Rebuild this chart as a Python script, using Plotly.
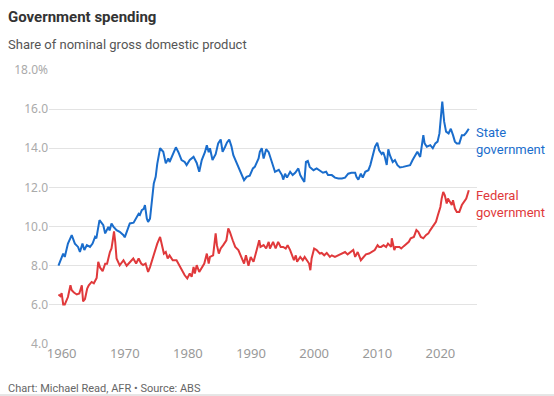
import plotly.graph_objects as go

state_year = [1959.5, 1960.25, 1960.5, 1961.0, 1961.6, 1962.1, 1962.6, 1962.9, 1963.3, 1963.6, 1964.0, 1964.5,
              1964.9, 1965.3, 1965.5, 1966.0, 1966.3, 1966.6, 1966.9, 1967.4, 1967.6, 1967.9, 1968.2, 1968.7,
              1969.2, 1969.8, 1970.0, 1970.3, 1970.8, 1971.4, 1971.9, 1972.2, 1972.4, 1972.7, 1973.0, 1973.2,
              1973.5, 1973.7, 1974.0, 1974.3, 1974.6, 1974.9, 1975.15, 1975.6, 1976.1, 1976.5, 1976.9, 1977.1,
              1977.6, 1978.1, 1978.5, 1979.0, 1979.5, 1979.8, 1980.3, 1980.9, 1981.4, 1981.8, 1982.2, 1982.4,
              1982.7, 1983.0, 1983.3, 1983.5, 1983.9, 1984.4, 1984.8, 1985.2, 1985.5, 1985.9, 1986.2, 1986.55,
              1986.9, 1987.2, 1987.7, 1988.1, 1988.5, 1988.9, 1989.3, 1989.8, 1990.3, 1990.6, 1991.2, 1991.4,
              1991.7, 1992.0, 1992.4, 1992.8, 1993.3, 1993.8, 1994.4, 1994.9, 1995.1, 1995.4, 1995.7, 1996.2,
              1996.6, 1997.0, 1997.5, 1997.8, 1998.2, 1998.45, 1998.7, 1999.0, 1999.3, 1999.9, 2000.4, 2000.9,
              2001.4, 2001.9, 2002.2, 2002.8, 2003.3, 2003.85, 2004.4, 2004.9, 2005.4, 2005.9, 2006.5, 2006.7,
              2007.0, 2007.4, 2007.7, 2008.1, 2008.6, 2008.9, 2009.3, 2009.65, 2010.0, 2010.3, 2010.7, 2010.95,
              2011.2, 2011.5, 2011.75, 2012.0, 2012.45, 2012.8, 2013.2, 2013.6, 2014.1, 2014.7, 2015.2, 2015.6,
              2016.0, 2016.35, 2016.8, 2017.0, 2017.3, 2017.5, 2017.85, 2018.4, 2018.8, 2019.2, 2019.55, 2019.85,
              2020.1, 2020.3, 2020.6, 2020.9, 2021.3, 2021.65, 2022.0, 2022.3, 2022.6, 2023.0, 2023.4, 2023.75,
              2024.1, 2024.5]
state_share = [8.0, 8.62, 8.45, 9.13, 9.56, 9.13, 8.96, 8.7, 9.13, 8.8, 9.05, 8.96,
               9.13, 9.47, 9.4, 10.33, 10.2, 10.07, 9.65, 9.98, 9.8, 10.16, 10.0, 9.82,
               9.73, 9.56, 9.45, 9.73, 10.16, 10.2, 10.5, 10.65, 10.6, 10.84, 10.9, 11.1,
               10.4, 10.24, 10.4, 11.35, 12.2, 12.54, 13.2, 14.0, 13.82, 13.23, 13.48, 13.3,
               13.65, 14.05, 13.8, 13.4, 13.3, 13.14, 13.4, 13.56, 13.25, 12.8, 13.4, 13.56,
               13.8, 14.16, 13.8, 14.0, 13.4, 13.7, 14.25, 14.45, 13.82, 14.08, 14.3, 14.45,
               14.1, 13.65, 13.3, 12.97, 12.7, 12.37, 12.54, 12.6, 12.97, 13.05, 13.48, 13.82,
               14.0, 13.48, 13.95, 13.8, 13.3, 12.8, 12.9, 12.63, 12.4, 12.7, 12.5, 12.8,
               12.63, 12.75, 12.97, 12.63, 12.4, 12.28, 13.3, 13.35, 13.05, 12.88, 12.97, 12.88,
               12.75, 12.8, 12.63, 12.63, 12.5, 12.46, 12.46, 12.5, 12.7, 12.75, 12.75, 12.54,
               12.4, 12.7, 12.5, 12.8, 12.88, 13.14, 13.65, 14.08, 14.28, 13.9, 13.7, 13.8,
               13.56, 13.15, 13.95, 13.65, 13.3, 13.4, 13.14, 13.02, 13.05, 13.1, 13.14, 13.4,
               13.65, 13.82, 13.56, 13.98, 14.67, 14.25, 14.08, 14.16, 14.0, 14.25, 14.34, 14.76,
               15.7, 16.38, 15.36, 14.85, 14.76, 15.0, 14.67, 14.34, 14.25, 14.25, 14.67, 14.67,
               14.8, 15.0]

federal_year = [1959.5, 1959.8, 1960.0, 1960.25, 1960.5, 1960.8, 1961.0, 1961.4, 1961.6, 1961.95, 1962.4, 1962.8,
                1963.2, 1963.4, 1963.7, 1964.05, 1964.3, 1964.75, 1965.1, 1965.55, 1965.8, 1966.1, 1966.5, 1966.9,
                1967.2, 1967.65, 1967.9, 1968.1, 1968.3, 1968.5, 1968.7, 1969.2, 1969.8, 1970.3, 1970.8, 1971.35,
                1971.8, 1972.2, 1972.6, 1972.9, 1973.3, 1973.7, 1974.0, 1974.4, 1974.8, 1975.15, 1975.6, 1975.8,
                1976.2, 1976.5, 1976.8, 1977.1, 1977.6, 1978.2, 1978.5, 1979.0, 1979.5, 1979.9, 1980.3, 1980.6,
                1980.9, 1981.1, 1981.4, 1981.8, 1982.2, 1982.6, 1983.0, 1983.3, 1983.5, 1984.0, 1984.4, 1984.6,
                1984.9, 1985.2, 1985.6, 1986.1, 1986.4, 1986.65, 1987.1, 1987.5, 1988.0, 1988.5, 1988.9, 1989.2,
                1989.6, 1989.95, 1990.4, 1990.9, 1991.3, 1991.5, 1992.0, 1992.4, 1992.8, 1993.0, 1993.5, 1993.9,
                1994.3, 1994.7, 1995.1, 1995.5, 1995.8, 1996.2, 1996.4, 1996.8, 1997.1, 1997.3, 1997.8, 1998.2,
                1998.5, 1999.0, 1999.2, 1999.4, 1999.6, 2000.0, 2000.4, 2000.9, 2001.2, 2001.6, 2002.0, 2002.5,
                2002.8, 2003.3, 2003.85, 2004.4, 2004.9, 2005.3, 2005.8, 2006.2, 2006.5, 2006.9, 2007.4, 2007.8,
                2008.2, 2008.7, 2009.2, 2009.6, 2010.05, 2010.3, 2010.6, 2011.0, 2011.4, 2011.7, 2012.2, 2012.3,
                2012.7, 2012.9, 2013.5, 2013.8, 2014.2, 2014.6, 2015.0, 2015.3, 2015.8, 2016.2, 2016.5, 2016.9,
                2017.3, 2017.7, 2018.1, 2018.4, 2018.8, 2019.3, 2019.6, 2020.0, 2020.2, 2020.45, 2020.7, 2021.0,
                2021.2, 2021.5, 2021.8, 2022.0, 2022.3, 2022.6, 2023.0, 2023.4, 2023.75, 2024.1, 2024.5]
federal_share = [6.53, 6.45, 6.6, 6.02, 6.02, 6.24, 6.4, 7.0, 6.75, 6.63, 6.53, 6.58,
                 7.0, 6.18, 6.3, 6.83, 7.0, 7.17, 7.1, 7.38, 8.2, 7.9, 7.72, 8.1,
                 8.1, 8.7, 8.88, 9.3, 9.75, 9.2, 8.37, 8.02, 8.28, 8.0, 8.2, 8.37,
                 8.11, 8.37, 8.11, 8.03, 8.11, 7.68, 7.93, 8.37, 8.8, 9.13, 9.47, 9.22,
                 8.62, 8.7, 8.37, 8.53, 8.28, 8.28, 8.11, 7.77, 7.51, 7.35, 7.6, 7.43,
                 7.94, 7.6, 8.03, 7.68, 7.93, 8.11, 8.62, 8.11, 8.45, 8.53, 9.65, 9.05,
                 8.62, 8.88, 9.05, 9.3, 9.9, 9.73, 9.3, 8.96, 8.8, 8.37, 8.11, 8.53,
                 8.0, 8.45, 8.2, 8.8, 9.3, 8.96, 9.05, 8.88, 9.22, 8.88, 9.22, 8.88,
                 9.22, 8.96, 8.96, 8.88, 9.05, 8.8, 8.62, 8.28, 8.53, 8.2, 8.45, 8.28,
                 8.45, 8.2, 8.11, 7.77, 8.37, 8.88, 8.8, 8.62, 8.65, 8.53, 8.65, 8.45,
                 8.53, 8.45, 8.53, 8.62, 8.7, 8.58, 8.7, 8.8, 8.45, 8.7, 8.28, 8.45,
                 8.58, 8.62, 8.7, 8.8, 9.05, 8.96, 8.96, 9.05, 8.96, 9.13, 8.96, 9.4,
                 8.8, 8.96, 8.96, 8.88, 9.0, 9.1, 9.22, 9.4, 9.47, 9.82, 9.73, 9.47,
                 9.4, 9.56, 9.65, 9.82, 10.0, 10.24, 10.58, 11.0, 11.43, 11.77, 11.6, 11.18,
                 11.43, 11.26, 11.1, 11.35, 10.92, 10.75, 10.75, 11.1, 11.26, 11.43, 11.86]

y_ticks = [4, 6, 8, 10, 12, 14, 16, 18]
y_tick_text = ["4.0", "6.0", "8.0", "10.0", "12.0", "14.0", "16.0", "18.0%"]
x_ticks = [1960, 1970, 1980, 1990, 2000, 2010, 2020]

BLUE = "#1a6dcc"
RED = "#e0393b"
FONT = "Roboto"
TICKFONT = "Noto Sans"

fig = go.Figure()
fig.add_trace(go.Scatter(x=state_year, y=state_share, mode="lines",
                         line=dict(color=BLUE, width=2), name="State government",
                         hoverinfo="skip"))
fig.add_trace(go.Scatter(x=federal_year, y=federal_share, mode="lines",
                         line=dict(color=RED, width=2), name="Federal government",
                         hoverinfo="skip"))

pw, ph = 428.0, 274.0
def px(x):
    return (x - 49) / pw
def py(y):
    return (344 - y) / ph

fig.update_layout(
    width=554, height=396,
    margin=dict(l=49, r=77, t=70, b=52),
    paper_bgcolor="white", plot_bgcolor="white",
    showlegend=False,
    font=dict(family=FONT, color="#999999", size=12),
    xaxis=dict(range=[1958, 2025.8], tickvals=x_ticks, showgrid=False, zeroline=False,
               showline=False, ticks="",
               tickfont=dict(size=13, color="#999999", family=TICKFONT)),
    yaxis=dict(range=[4, 18], tickvals=y_ticks, ticktext=y_tick_text, showgrid=True,
               gridcolor="#e3e3e3", gridwidth=1, zeroline=False, showline=False, ticks="",
               tickfont=dict(size=12, color="#aaaaaa", family=TICKFONT)),
    annotations=[
        dict(text="<b>Government spending</b>", xref="paper", yref="paper",
             x=px(6), y=py(17), xanchor="left", yanchor="middle", showarrow=False,
             font=dict(size=15, color="#333333", family=FONT)),
        dict(text="Share of nominal gross domestic product", xref="paper", yref="paper",
             x=px(6), y=py(45), xanchor="left", yanchor="middle", showarrow=False,
             font=dict(size=13, color="#555555", family=FONT)),
        dict(text="Chart: Michael Read, AFR • Source: ABS", xref="paper", yref="paper",
             x=px(6), y=py(388), xanchor="left", yanchor="middle", showarrow=False,
             font=dict(size=11, color="#666666", family=FONT)),
        dict(text="State<br>government", xref="paper", yref="paper",
             x=px(474), y=py(141), xanchor="left", yanchor="middle", align="left",
             showarrow=False, font=dict(size=13, color=BLUE, family=FONT)),
        dict(text="Federal<br>government", xref="paper", yref="paper",
             x=px(474), y=py(204), xanchor="left", yanchor="middle", align="left",
             showarrow=False, font=dict(size=13, color=RED, family=FONT)),
    ],
    shapes=[
        dict(type="line", xref="paper", yref="paper", x0=px(0), x1=px(554),
             y0=py(395), y1=py(395), line=dict(color="#cccccc", width=1)),
    ],
)

fig.write_html("out.html", config={"displayModeBar": False},
               post_script="document.body.style.margin='0';document.body.style.overflow='hidden';")
